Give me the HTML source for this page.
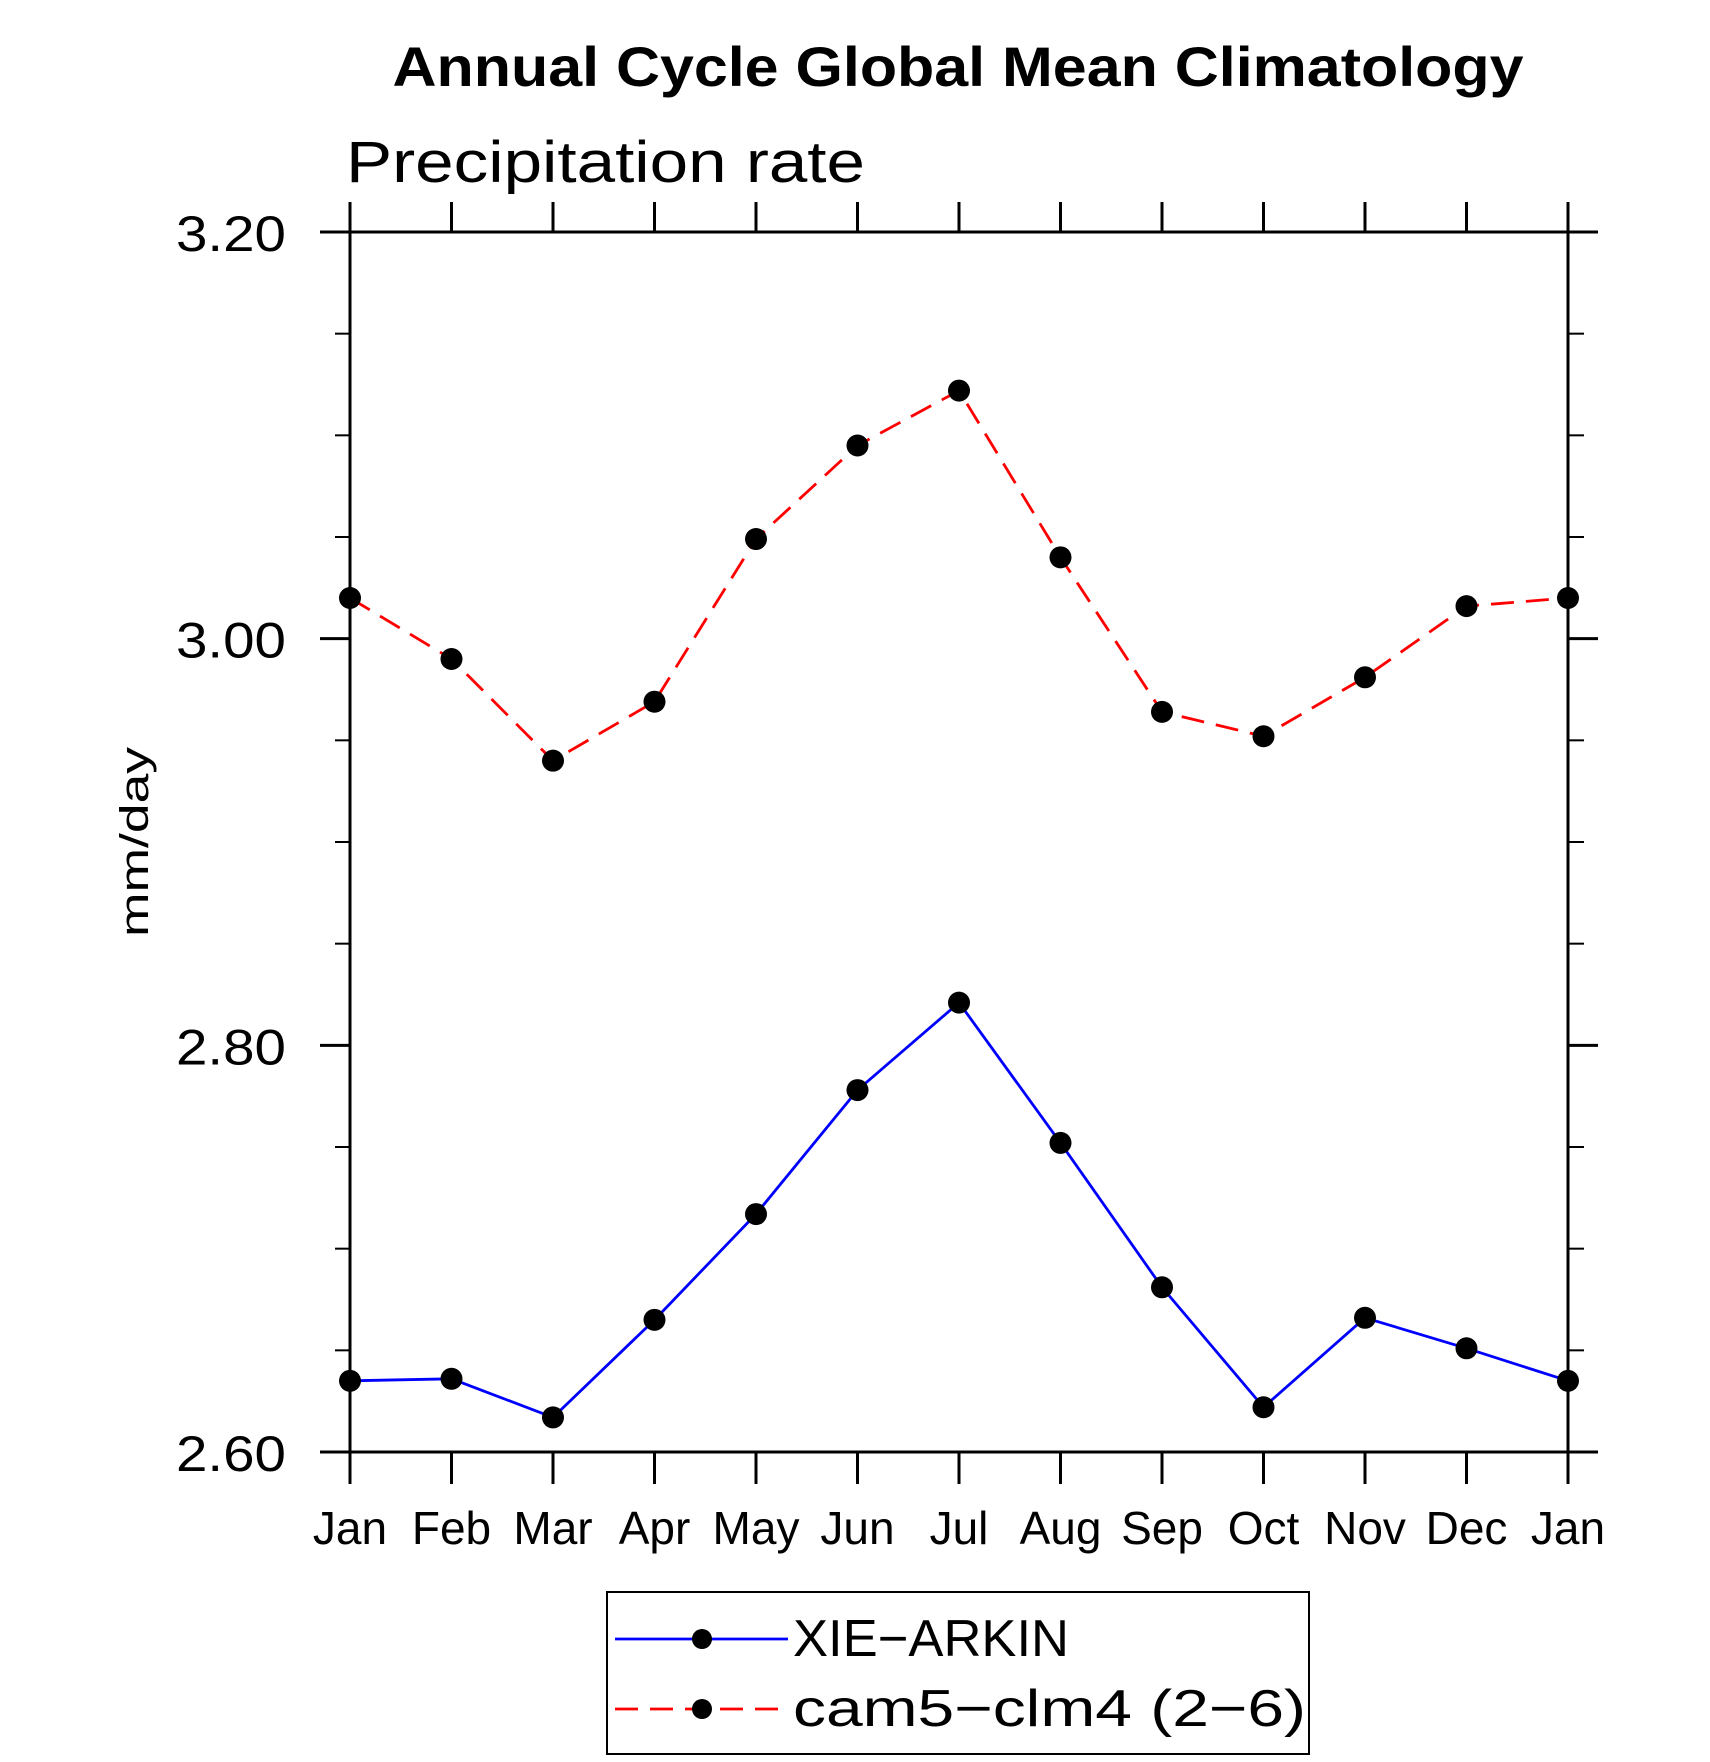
<!DOCTYPE html>
<html><head><meta charset="utf-8"><style>
html,body{margin:0;padding:0;background:#fff;}
svg{display:block;}
text{font-family:"Liberation Sans","DejaVu Sans",sans-serif;fill:#000;}
</style></head><body>
<svg id="chart" width="1710" height="1762" viewBox="0 0 1710 1762" xmlns="http://www.w3.org/2000/svg">
<text x="958" y="86" text-anchor="middle" font-size="56" font-weight="bold" textLength="1131" lengthAdjust="spacingAndGlyphs">Annual Cycle Global Mean Climatology</text>
<text x="346" y="182" font-size="58" textLength="519" lengthAdjust="spacingAndGlyphs">Precipitation rate</text>
<text transform="translate(148,842) rotate(-90)" text-anchor="middle" font-size="40" textLength="190" lengthAdjust="spacingAndGlyphs">mm/day</text>
<g id="axes"></g>
<g id="series"></g>
<g>
<rect x="607" y="1592" width="702" height="162" fill="none" stroke="#000" stroke-width="2"/>
<line x1="615" y1="1639" x2="788" y2="1639" stroke="#0000ff" stroke-width="2.8"/>
<circle cx="702" cy="1639" r="10"/>
<text x="793" y="1656" font-size="52" textLength="276" lengthAdjust="spacingAndGlyphs">XIE−ARKIN</text>
<line x1="615" y1="1709" x2="788" y2="1709" stroke="#ff0000" stroke-width="2.8" stroke-dasharray="23,12"/>
<circle cx="702" cy="1709" r="10"/>
<text x="793" y="1726" font-size="52" textLength="513" lengthAdjust="spacingAndGlyphs">cam5−clm4 (2−6)</text>
</g>
</svg>
<script>
const months = ["Jan","Feb","Mar","Apr","May","Jun","Jul","Aug","Sep","Oct","Nov","Dec","Jan"];
const xieArkin = [2.635,2.636,2.617,2.665,2.717,2.778,2.821,2.752,2.681,2.622,2.666,2.651,2.635];
const cam5clm4 = [3.020,2.990,2.940,2.969,3.049,3.095,3.122,3.040,2.964,2.952,2.981,3.016,3.020];
const yMajorTicks = [2.6,2.8,3.0,3.2];
const yTickLabels = ["2.60","2.80","3.00","3.20"];
const yMinorTicks = [2.65,2.7,2.75,2.85,2.9,2.95,3.05,3.1,3.15];

const NS="http://www.w3.org/2000/svg";
const L=350,R=1568,T=232,B=1452,ymin=2.6,ymax=3.2;
const xs=i=>L+(R-L)*i/(months.length-1);
const ys=v=>B-(v-ymin)/(ymax-ymin)*(B-T);
function mk(tag,attrs,parent){const e=document.createElementNS(NS,tag);for(const k in attrs)e.setAttribute(k,attrs[k]);parent.appendChild(e);return e;}
const ax=document.getElementById('axes'), se=document.getElementById('series');
const frame=mk('rect',{x:L,y:T,width:R-L,height:B-T,fill:'none',stroke:'#000','stroke-width':3},ax);


const tk={stroke:'#000','stroke-width':3};
months.forEach((m,i)=>{
  const x=xs(i);
  const t1=mk('line',Object.assign({x1:x,y1:B,x2:x,y2:B+32},tk),ax);
  
  
  const t2=mk('line',Object.assign({x1:x,y1:T,x2:x,y2:T-30},tk),ax);
  
  
  const lb=mk('text',{x:x,y:1544,'text-anchor':'middle','font-size':46},ax);
  lb.textContent=m;
  
  
});
yMajorTicks.forEach((v,i)=>{
  const y=ys(v);
  const a=mk('line',Object.assign({x1:L-30,y1:y,x2:L,y2:y},tk),ax);
  
  
  const b=mk('line',Object.assign({x1:R,y1:y,x2:R+30,y2:y},tk),ax);
  
  
  const lb=mk('text',{x:286,y:y+19,'text-anchor':'end','font-size':50,textLength:110,lengthAdjust:'spacingAndGlyphs'},ax);
  lb.textContent=yTickLabels[i];
  
  
});
yMinorTicks.forEach(v=>{
  const y=ys(v);
  const a=mk('line',{x1:L-15,y1:y,x2:L,y2:y,stroke:'#000','stroke-width':2},ax);
  
  
  const b=mk('line',{x1:R,y1:y,x2:R+16,y2:y,stroke:'#000','stroke-width':2},ax);
  
  
});
function series(vals,color,dash,name){
  const pts=vals.map((v,i)=>xs(i)+','+ys(v)).join(' ');
  const pl=mk('polyline',{points:pts,fill:'none',stroke:color,'stroke-width':2.8},se);
  if(dash)pl.setAttribute('stroke-dasharray',dash);
  
  
  vals.forEach((v,i)=>{
    const c=mk('circle',{cx:xs(i),cy:ys(v),r:11,fill:'#000'},se);
    
    
  });
}
series(xieArkin,'#0000ff',null,'xie-arkin');
series(cam5clm4,'#ff0000','23,12','cam5-clm4');
</script>
</body></html>
